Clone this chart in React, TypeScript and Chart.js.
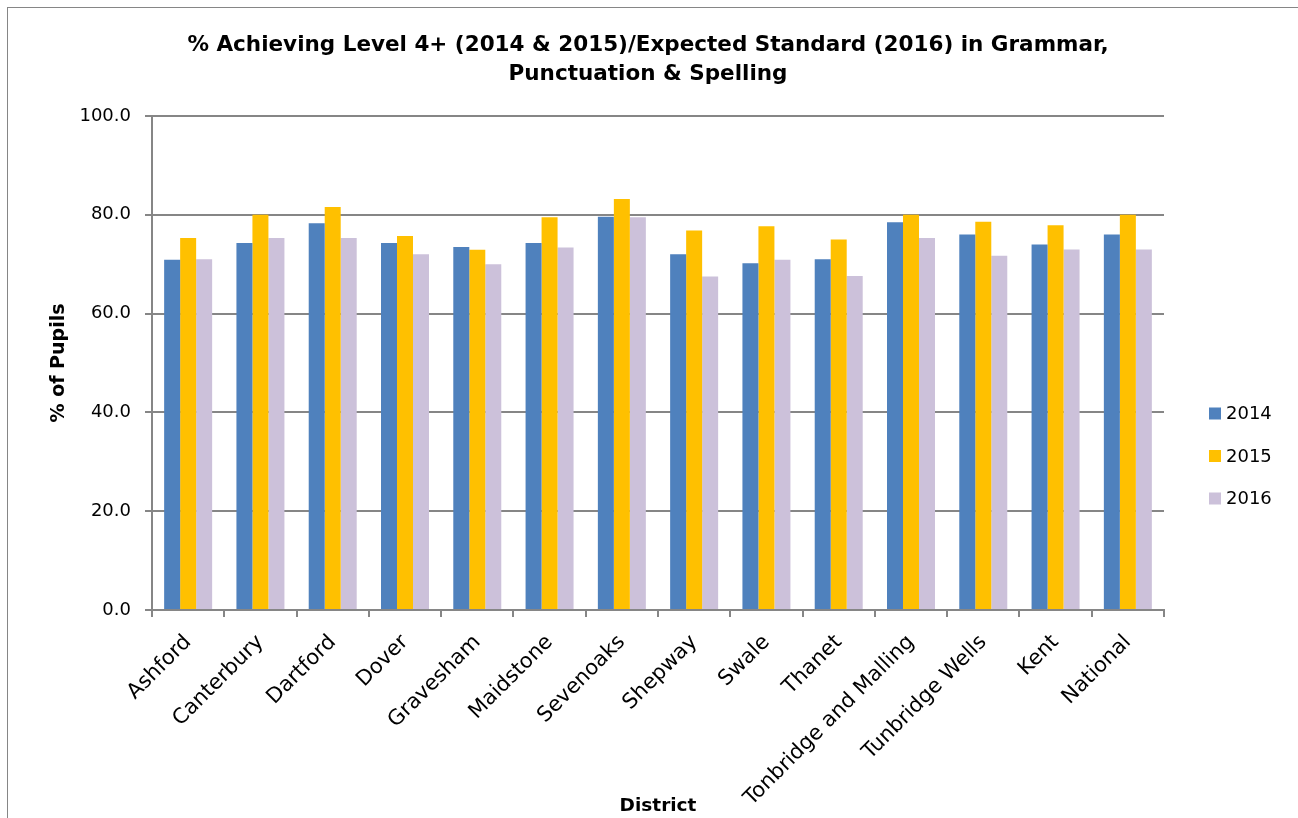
import React, { useEffect, useRef } from "react";
import { Chart, registerables } from "chart.js";

Chart.register(...registerables);

const categories = [
  "Ashford", "Canterbury", "Dartford", "Dover", "Gravesham", "Maidstone", "Sevenoaks",
  "Shepway", "Swale", "Thanet", "Tonbridge and Malling", "Tunbridge Wells", "Kent", "National",
];
const values2014 = [70.9, 74.3, 78.3, 74.3, 73.5, 74.3, 79.6, 72.0, 70.2, 71.0, 78.5, 76.0, 74.0, 76.0];
const values2015 = [75.3, 80.0, 81.6, 75.7, 72.9, 79.5, 83.2, 76.8, 77.7, 75.0, 80.0, 78.6, 77.9, 80.0];
const values2016 = [71.0, 75.3, 75.3, 72.0, 70.0, 73.4, 79.5, 67.5, 70.9, 67.6, 75.3, 71.7, 73.0, 73.0];
const seriesLabels = ["2014", "2015", "2016"];
const seriesColors = ["#4F81BD", "#FFC000", "#CCC1DA"];
const yTicks = [0, 20, 40, 60, 80, 100];

const titleLines = [
  "% Achieving Level 4+ (2014 & 2015)/Expected Standard (2016) in Grammar,",
  "Punctuation & Spelling",
];

const FONT = "'DejaVu Sans', Verdana, sans-serif";
const GRID = "#868686";

const legendPlugin = {
  id: "customLegend",
  afterDraw(chart: any) {
    const ctx = chart.ctx;
    const x0 = chart.chartArea.right + 45;
    const y0 = 404.5;
    const step = 42.5;
    ctx.save();
    ctx.font = `18px ${FONT}`;
    ctx.textBaseline = "middle";
    ctx.textAlign = "left";
    chart.data.datasets.forEach((ds: any, i: number) => {
      const y = y0 + i * step;
      ctx.fillStyle = ds.backgroundColor;
      ctx.fillRect(x0, y - 6, 12, 12);
      ctx.fillStyle = "#000";
      ctx.fillText(ds.label, x0 + 17, y + 1);
    });
    ctx.restore();
  },
};

export default function App() {
  const ref = useRef<HTMLCanvasElement | null>(null);

  useEffect(() => {
    if (!ref.current) return;
    const datasets = [values2014, values2015, values2016].map((vals, i) => ({
      label: seriesLabels[i],
      data: vals,
      backgroundColor: seriesColors[i],
      borderWidth: 0,
      categoryPercentage: 0.664,
      barPercentage: 1.0,
      yAxisID: "y",
    }));
    const chart = new Chart(ref.current, {
      type: "bar",
      data: { labels: categories, datasets },
      plugins: [legendPlugin],
      options: {
        responsive: false,
        animation: false,
        devicePixelRatio: 1,
        layout: { padding: { left: 0, right: 0, top: 0, bottom: 0 } },
        plugins: {
          legend: { display: false },
          tooltip: { enabled: false },
          title: {
            display: true,
            text: titleLines,
            color: "#000",
            font: { family: FONT, size: 21.5, weight: "bold", lineHeight: 29 / 21.5 },
            padding: { top: 21.5, bottom: 27.5 },
          },
        },
        scales: {
          x: {
            afterFit: (s: any) => { s.height = 219; },
            grid: {
              drawOnChartArea: false,
              offset: true,
              drawTicks: true,
              tickLength: 7,
              color: GRID,
              lineWidth: 2,
            },
            border: { display: true, color: GRID, width: 2 },
            ticks: {
              autoSkip: false,
              maxRotation: 45,
              minRotation: 45,
              padding: 13,
              color: "#000",
              font: { family: FONT, size: 21 },
            },
            title: {
              display: true,
              text: "District",
              color: "#000",
              font: { family: FONT, size: 18.5, weight: "bold", lineHeight: 1.2 },
              padding: { top: 0, bottom: 12 },
            },
          },
          y: {
            position: "left",
            min: 0,
            max: 100,
            afterFit: (s: any) => { s.width = 143; },
            afterBuildTicks: (s: any) => { s.ticks = yTicks.map((v) => ({ value: v })); },
            grid: { color: GRID, lineWidth: 2, drawTicks: true, tickLength: 7 },
            border: { display: true, color: GRID, width: 2 },
            ticks: {
              padding: 14,
              color: "#000",
              font: { family: FONT, size: 18 },
              callback: (v: any) => Number(v).toFixed(1),
            },
            title: {
              display: true,
              text: "% of Pupils",
              color: "#000",
              font: { family: FONT, size: 19, weight: "bold", lineHeight: 1.2 },
              padding: { top: 39, bottom: 0 },
            },
          },
          legendSpace: {
            type: "linear",
            position: "right",
            display: true,
            min: 0,
            max: 100,
            afterFit: (s: any) => { s.width = 123; },
            grid: { display: false, drawOnChartArea: false, drawTicks: false },
            border: { display: false },
            ticks: { display: false },
          },
        },
      },
    });
    return () => chart.destroy();
  }, []);

  return (
    <div style={{ position: "fixed", left: 0, top: 0, width: 1298, height: 818, overflow: "hidden", background: "#fff" }}>
      <div style={{ position: "absolute", left: 7, top: 7, width: 1500, height: 900, border: "1px solid #868686" }}>
        <canvas ref={ref} width={1278} height={820} style={{ display: "block", position: "absolute", left: 1, top: 1 }} />
      </div>
    </div>
  );
}
